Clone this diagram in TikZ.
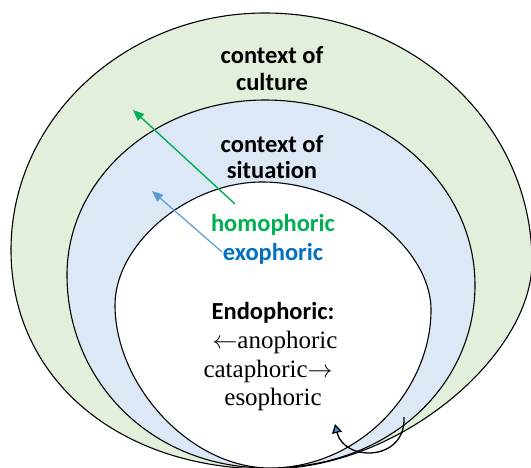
\documentclass[tikz,border=0pt]{standalone}
\usepackage{fontspec}
\usetikzlibrary{arrows.meta}
\newfontfamily\labfont{Carlito}[Ligatures={NoCommon}]
\newfontfamily\serfont{Liberation Serif}
\definecolor{cultfill}{HTML}{E2EFDA}
\definecolor{sitfill}{HTML}{DCE8F5}
\definecolor{homogreen}{HTML}{00B050}
\definecolor{exoblue}{HTML}{0070C0}
\definecolor{exoarrow}{HTML}{5B9BD5}
\definecolor{tipblue}{HTML}{4F8FD0}
\tikzset{
  ring/.style={draw=black, line width=1.1pt},
  boldlabel/.style={anchor=base, font=\labfont\bfseries\fontsize{24.5}{27}\selectfont, inner sep=0pt},
  seriflabel/.style={anchor=base, font=\serfont\fontsize{25}{29}\selectfont, inner sep=0pt},
  refarrow/.style={line width=1.4pt, -{Triangle[length=11pt, width=9pt]}},
}
\begin{document}
\begin{tikzpicture}[x=1pt, y=-1pt]
\useasboundingbox (0,0) rectangle (531,467);
\begin{scope}
\clip (0,0) rectangle (531,467);
% context of culture: egg shape, narrowing towards the bottom
\draw[ring, fill=cultfill]
  (265,13) .. controls (412,13) and (532,124) .. (532,262)
           .. controls (532,355) and (400,469) .. (268,469)
           .. controls (120,469) and (11,380) .. (11,250)
           .. controls (11,119) and (125,13) .. cycle;
% context of situation
\draw[ring, fill=sitfill]
  (265,100) .. controls (381,100) and (475,183) .. (475,285)
            .. controls (475,385) and (390,468) .. (268,468)
            .. controls (150,468) and (67,380) .. (67,275)
            .. controls (67,178) and (156,100) .. cycle;
% the text itself
\draw[ring, fill=white]
  (262,182) .. controls (346,182) and (431,246) .. (431,310)
            .. controls (431,390) and (360,468) .. (270,468)
            .. controls (190,468) and (115,385) .. (115,305)
            .. controls (115,244) and (188,182) .. cycle;
\end{scope}

% labels
\node[boldlabel] (cult1) at (272,63) {context of};
\node[boldlabel] (cult2) at (272,90) {culture};
\node[boldlabel] (sit1) at (272,152) {context of};
\node[boldlabel] (sit2) at (272,178) {situation};
\node[boldlabel, text=homogreen] (homo) at (273,231) {homophoric};
\node[boldlabel, text=exoblue] (exo) at (273,260) {exophoric};
\node[boldlabel] (endo) at (273,319) {Endophoric:};
\node[seriflabel] (ana) at (275,348) {$\leftarrow$anophoric};
\node[seriflabel] (cata) at (268,377) {cataphoric$\rightarrow$};
\node[seriflabel] (eso) at (273,405) {esophoric};

% reference arrows
\coordinate (gtail) at (235,204);
\coordinate (gtip) at (133,110);
\coordinate (btail) at (222,252);
\coordinate (btip) at (152,191);
\draw[refarrow, homogreen] (gtail) -- (gtip);
\draw[refarrow, exoarrow, line width=1.2pt] (btail) -- (btip);

% looping arrow
\coordinate (lstart) at (404,417);
\coordinate (lend) at (335,424);
\draw[line width=1.3pt, black, -{Triangle[length=9pt, width=10pt, fill=tipblue]}]
  (lstart) .. controls (406,462) and (344,462) .. (lend);
\end{tikzpicture}
\end{document}
